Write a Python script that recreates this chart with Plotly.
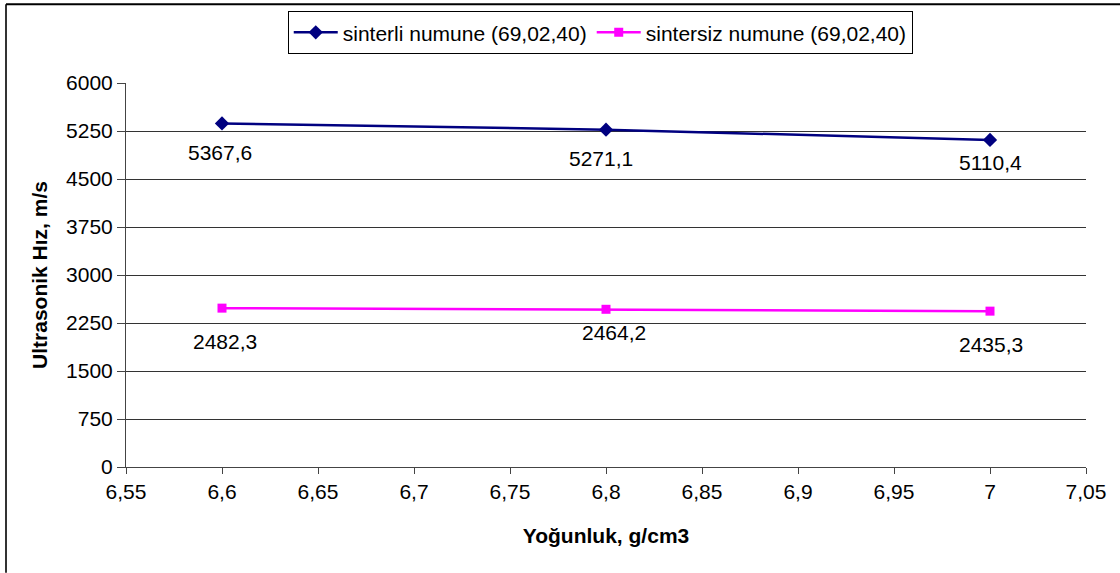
import plotly.graph_objects as go

density = [6.6, 6.8, 7.0]
sinterli = [5367.6, 5271.1, 5110.4]
sintersiz = [2482.3, 2464.2, 2435.3]
series_names = ["sinterli numune (69,02,40)", "sintersiz numune (69,02,40)"]

x_ticks = [6.55, 6.6, 6.65, 6.7, 6.75, 6.8, 6.85, 6.9, 6.95, 7.0, 7.05]
x_tick_labels = ["6,55", "6,6", "6,65", "6,7", "6,75", "6,8", "6,85", "6,9", "6,95", "7", "7,05"]
y_ticks = [0, 750, 1500, 2250, 3000, 3750, 4500, 5250, 6000]
y_tick_labels = ["0", "750", "1500", "2250", "3000", "3750", "4500", "5250", "6000"]

# label pixel offsets (manual Excel placement)
sinterli_shift = [(-2, -29), (-5, -29), (0, -23)]
sintersiz_shift = [(3, -33), (8, -23), (1, -33)]

FONT = "Liberation Sans, Arial, sans-serif"
FS = 21
fig = go.Figure()
fig.add_trace(go.Scatter(x=density, y=sinterli, mode="lines+markers", name=series_names[0],
                         line=dict(color="#000080", width=2.5),
                         marker=dict(symbol="diamond", size=11, color="#000080")))
fig.add_trace(go.Scatter(x=density, y=sintersiz, mode="lines+markers", name=series_names[1],
                         line=dict(color="#FF00FF", width=2.5),
                         marker=dict(symbol="square", size=9, color="#FF00FF")))

def fmt(v):
    return f"{v:.1f}".replace(".", ",")

annotations = []
for xs, ys, shifts in [(density, sinterli, sinterli_shift), (density, sintersiz, sintersiz_shift)]:
    for xv, yv, (dx, dy) in zip(xs, ys, shifts):
        annotations.append(dict(x=xv, y=yv, text=fmt(yv), showarrow=False,
                                xshift=dx, yshift=dy, font=dict(size=FS, color="black", family=FONT)))

fig.update_layout(
    width=1120, height=573,
    margin=dict(l=126, r=34, t=82, b=106),
    paper_bgcolor="white", plot_bgcolor="white",
    font=dict(family=FONT, size=FS, color="black"),
    showlegend=True,
    legend=dict(orientation="h", x=0.494, xanchor="center", y=1.184, yanchor="top",
                bordercolor="black", borderwidth=1, bgcolor="white",
                font=dict(size=FS, family=FONT), itemwidth=44, tracegroupgap=0),
    xaxis=dict(range=[6.55, 7.05], tickvals=x_ticks, ticktext=x_tick_labels,
               showgrid=False, showline=True, linecolor="#444", linewidth=1,
               ticks="outside", ticklen=6, tickcolor="#444", zeroline=False,
               title=dict(text="<b>Yoğunluk, g/cm3</b>", font=dict(size=FS, family=FONT), standoff=26)),
    yaxis=dict(range=[0, 6000], tickvals=y_ticks, ticktext=y_tick_labels,
               showgrid=True, gridcolor="#333", gridwidth=1,
               showline=True, linecolor="#444", linewidth=1,
               ticks="outside", ticklen=8, tickcolor="#444", zeroline=False,
               title=dict(text="<b>Ultrasonik Hız, m/s</b>", font=dict(size=FS, family=FONT), standoff=12)),
    annotations=annotations,
    shapes=[
        dict(type="line", xref="paper", yref="paper", x0=(6 - 126) / 960, x1=(6 - 126) / 960,
             y0=(467 - 3) / 385, y1=(467 - 573) / 385, line=dict(color="#333", width=2)),
        dict(type="line", xref="paper", yref="paper", x0=(6 - 126) / 960, x1=(1120 - 126) / 960,
             y0=(467 - 3) / 385, y1=(467 - 3) / 385, line=dict(color="black", width=2)),
    ],
)

fig.write_html("out.html")
